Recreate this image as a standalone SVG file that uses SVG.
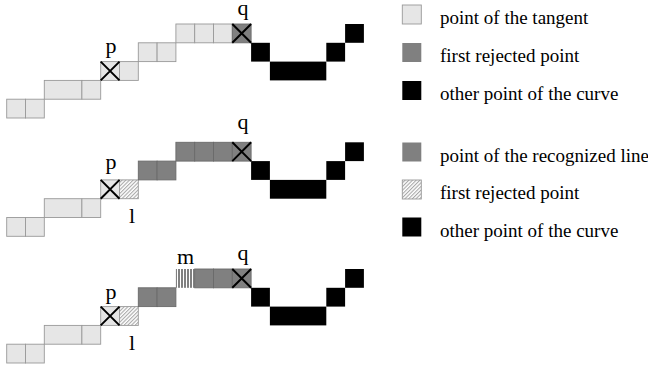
<svg xmlns="http://www.w3.org/2000/svg" width="648" height="369" viewBox="0 0 648 369">
<style>
.lt{fill:#e6e6e6;stroke:#999;stroke-width:0.9}
.dk{fill:#808080;stroke:#6a6a6a;stroke-width:0.9}
.bk{fill:#000;stroke:none}
.ht{fill:url(#hatch);stroke:#999;stroke-width:0.9}
.vl{fill:url(#vlines);stroke:none}
.x{stroke:#000;stroke-width:2;fill:none}
.lbl{font-family:"Liberation Serif","Times New Roman",serif;font-size:22px;fill:#000;text-anchor:middle}
.leg{font-family:"Liberation Serif","Times New Roman",serif;font-size:19px;fill:#000}
</style>
<defs>
<pattern id="hatch" patternUnits="userSpaceOnUse" width="2.6" height="2.6" patternTransform="rotate(45)">
<rect width="2.6" height="2.6" fill="#fff"/>
<line x1="0.6" y1="0" x2="0.6" y2="2.6" stroke="#777" stroke-width="0.7"/>
</pattern>
<pattern id="vlines" patternUnits="userSpaceOnUse" x="178.5" y="0" width="3" height="10">
<rect width="3" height="10" fill="#fff"/>
<rect x="0" y="0" width="1" height="10" fill="#000"/>
</pattern>
</defs>

<g id="row1">
<rect class="lt" x="6.7" y="99.2" width="18.8" height="18.8"/>
<rect class="lt" x="25.5" y="99.2" width="18.8" height="18.8"/>
<rect class="lt" x="44.3" y="80.4" width="37.6" height="18.8"/>
<rect class="lt" x="81.9" y="80.4" width="18.8" height="18.8"/>
<rect class="lt" x="100.7" y="61.6" width="18.8" height="18.8"/>
<rect class="lt" x="119.5" y="61.6" width="18.8" height="18.8"/>
<rect class="lt" x="138.3" y="42.8" width="18.8" height="18.8"/>
<rect class="lt" x="157.1" y="42.8" width="18.8" height="18.8"/>
<rect class="lt" x="175.9" y="24" width="18.8" height="18.8"/>
<rect class="lt" x="194.7" y="24" width="18.8" height="18.8"/>
<rect class="lt" x="213.5" y="24" width="18.8" height="18.8"/>
<rect class="dk" x="232.3" y="24" width="18.8" height="18.8"/>
<rect class="bk" x="251.1" y="42.8" width="18.8" height="18.8"/>
<rect class="bk" x="269.9" y="61.6" width="56.4" height="18.8"/>
<rect class="bk" x="326.3" y="42.8" width="18.8" height="18.8"/>
<rect class="bk" x="345.1" y="24" width="18.8" height="18.8"/>
<path class="x" d="M100.7,61.6 L119.5,80.4 M119.5,61.6 L100.7,80.4"/>
<path class="x" d="M232.3,24 L251.1,42.8 M251.1,24 L232.3,42.8"/>
<text class="lbl" x="111" y="53">p</text>
<text class="lbl" x="243" y="15">q</text>
</g>

<g id="row2">
<rect class="lt" x="6.7" y="217.5" width="18.8" height="18.8"/>
<rect class="lt" x="25.5" y="217.5" width="18.8" height="18.8"/>
<rect class="lt" x="44.3" y="198.7" width="37.6" height="18.8"/>
<rect class="lt" x="81.9" y="198.7" width="18.8" height="18.8"/>
<rect class="lt" x="100.7" y="179.9" width="18.8" height="18.8"/>
<rect class="ht" x="119.5" y="179.9" width="18.8" height="18.8"/>
<rect class="dk" x="138.3" y="161.1" width="18.8" height="18.8"/>
<rect class="dk" x="157.1" y="161.1" width="18.8" height="18.8"/>
<rect class="dk" x="175.9" y="142.3" width="18.8" height="18.8"/>
<rect class="dk" x="194.7" y="142.3" width="18.8" height="18.8"/>
<rect class="dk" x="213.5" y="142.3" width="18.8" height="18.8"/>
<rect class="dk" x="232.3" y="142.3" width="18.8" height="18.8"/>
<rect class="bk" x="251.1" y="161.1" width="18.8" height="18.8"/>
<rect class="bk" x="269.9" y="179.9" width="56.4" height="18.8"/>
<rect class="bk" x="326.3" y="161.1" width="18.8" height="18.8"/>
<rect class="bk" x="345.1" y="142.3" width="18.8" height="18.8"/>
<path class="x" d="M100.7,179.9 L119.5,198.7 M119.5,179.9 L100.7,198.7"/>
<path class="x" d="M232.3,142.3 L251.1,161.1 M251.1,142.3 L232.3,161.1"/>
<text class="lbl" x="111" y="168.5">p</text>
<text class="lbl" x="243" y="128.5">q</text>
<text class="lbl" x="132" y="223">l</text>
</g>

<g id="row3">
<rect class="lt" x="6.7" y="344.2" width="18.8" height="18.8"/>
<rect class="lt" x="25.5" y="344.2" width="18.8" height="18.8"/>
<rect class="lt" x="44.3" y="325.4" width="37.6" height="18.8"/>
<rect class="lt" x="81.9" y="325.4" width="18.8" height="18.8"/>
<rect class="lt" x="100.7" y="306.6" width="18.8" height="18.8"/>
<rect class="ht" x="119.5" y="306.6" width="18.8" height="18.8"/>
<rect class="dk" x="138.3" y="287.8" width="18.8" height="18.8"/>
<rect class="dk" x="157.1" y="287.8" width="18.8" height="18.8"/>
<rect class="vl" x="175.9" y="269" width="18.8" height="18.8"/>
<rect class="dk" x="194.7" y="269" width="18.8" height="18.8"/>
<rect class="dk" x="213.5" y="269" width="18.8" height="18.8"/>
<rect class="dk" x="232.3" y="269" width="18.8" height="18.8"/>
<rect class="bk" x="251.1" y="287.8" width="18.8" height="18.8"/>
<rect class="bk" x="269.9" y="306.6" width="56.4" height="18.8"/>
<rect class="bk" x="326.3" y="287.8" width="18.8" height="18.8"/>
<rect class="bk" x="345.1" y="269" width="18.8" height="18.8"/>
<path class="x" d="M100.7,306.6 L119.5,325.4 M119.5,306.6 L100.7,325.4"/>
<path class="x" d="M232.3,269 L251.1,287.8 M251.1,269 L232.3,287.8"/>
<text class="lbl" x="111" y="298.5">p</text>
<text class="lbl" x="243" y="260">q</text>
<text class="lbl" x="132" y="350">l</text>
<text class="lbl" x="185.5" y="264">m</text>
</g>

<g id="legend1">
<rect class="lt" x="402.3" y="5" width="19" height="19"/>
<text class="leg" x="440" y="23.5">point of the tangent</text>
<rect x="402.3" y="43" width="19" height="19" fill="#808080"/>
<text class="leg" x="440" y="62">first rejected point</text>
<rect class="bk" x="402.3" y="81" width="19" height="19"/>
<text class="leg" x="440" y="100">other point of the curve</text>
</g>

<g id="legend2">
<rect x="402.3" y="142.5" width="19" height="19" fill="#808080"/>
<text class="leg" x="440" y="161.5">point of the recognized line</text>
<rect class="ht" x="402.3" y="180" width="19" height="19"/>
<text class="leg" x="440" y="199">first rejected point</text>
<rect class="bk" x="402.3" y="217.5" width="19" height="19"/>
<text class="leg" x="440" y="236.5">other point of the curve</text>
</g>

<g id="connectors"></g>
</svg>
